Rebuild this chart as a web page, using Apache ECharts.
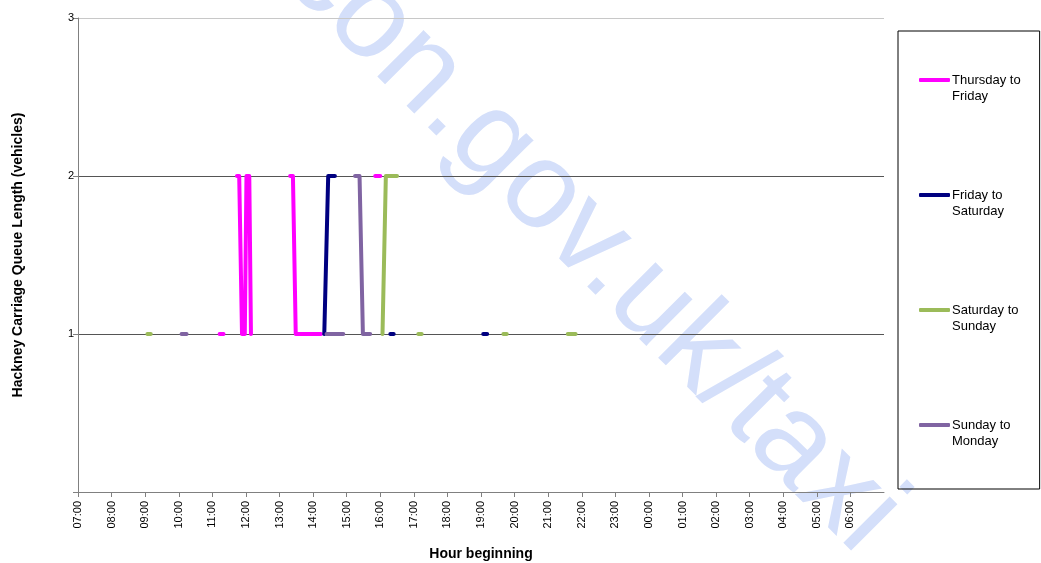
<!DOCTYPE html>
<html>
<head>
<meta charset="utf-8">
<script src="https://cdn.jsdelivr.net/npm/echarts@6/dist/echarts.min.js"></script>
<style>
html,body{margin:0;padding:0;background:#fff;}
#chart{width:1041px;height:563px;}
</style>
</head>
<body>
<div id="chart"></div>
<script>
// Series names
const seriesNames = ["Thursday to Friday", "Friday to Saturday", "Saturday to Sunday", "Sunday to Monday"];
// Queue length readings [clock time, vehicles]; null = no queue (line break)
const thursdayToFriday = [
  ["11:13", 1], ["11:20", 1], null,
  ["11:44", 2], ["11:48", 2], ["11:53", 1], ["11:58", 1], ["12:01", 2], ["12:06", 2], ["12:09", 1], null,
  ["13:19", 2], ["13:24", 2], ["13:29", 1], ["14:14", 1], null,
  ["15:51", 2], ["16:00", 2]
];
const fridayToSaturday = [
  ["14:20", 1], ["14:27", 2], ["14:39", 2], null,
  ["16:18", 1], ["16:24", 1], null,
  ["19:04", 1], ["19:11", 1]
];
const saturdayToSunday = [
  ["09:04", 1], ["09:10", 1], null,
  ["16:04", 1], ["16:10", 2], ["16:30", 2], null,
  ["17:08", 1], ["17:14", 1], null,
  ["19:40", 1], ["19:46", 1], null,
  ["21:35", 1], ["21:49", 1]
];
const sundayToMonday = [
  ["10:05", 1], ["10:14", 1], null,
  ["14:24", 1], ["14:54", 1], null,
  ["15:15", 2], ["15:23", 2], ["15:29", 1], ["15:42", 1]
];
const seriesColors = ["#FF00FF", "#000080", "#9BBB59", "#8064A2"];
const startHour = 7;
const watermarkText = "con.gov.uk/taxi";

function toMinutes(t) {
  const [h, m] = t.split(":").map(Number);
  return ((h * 60 + m) - startHour * 60 + 1440) % 1440;
}
function build(arr) {
  const out = [];
  let last = 0;
  arr.forEach(p => {
    if (p === null) { out.push([last, null]); }
    else { last = toMinutes(p[0]); out.push([last, p[1]]); }
  });
  return out;
}
const allData = [thursdayToFriday, fridayToSaturday, saturdayToSunday, sundayToMonday];

const font = '"Liberation Sans", Arial, sans-serif';
const chart = echarts.init(document.getElementById('chart'));
chart.setOption({
  animation: false,
  backgroundColor: '#ffffff',
  grid: { left: 78, top: 18, right: 157, bottom: 71, containLabel: false, outerBoundsMode: 'none' },
  xAxis: {
    type: 'value', min: 0, max: 1440, interval: 60,
    name: 'Hour beginning', nameLocation: 'middle', nameGap: 55,
    nameTextStyle: { fontFamily: font, fontSize: 14, fontWeight: 'bold', color: '#000' },
    axisLine: { show: true, lineStyle: { color: '#808080', width: 1 } },
    axisTick: { show: true, length: 5, lineStyle: { color: '#808080' } },
    splitLine: { show: false },
    axisLabel: {
      rotate: 90, margin: 9, fontFamily: font, fontSize: 11, color: '#000',
      showMaxLabel: false,
      formatter: v => {
        if (v >= 1440) return '';
        const h = (startHour + Math.floor(v / 60)) % 24;
        return (h < 10 ? '0' : '') + h + ':00';
      }
    }
  },
  yAxis: {
    type: 'value', min: 0, max: 3, interval: 1,
    name: 'Hackney Carriage Queue Length (vehicles)', nameLocation: 'middle', nameGap: 53, nameRotate: 90,
    nameTextStyle: { fontFamily: font, fontSize: 14, fontWeight: 'bold', color: '#000' },
    axisLine: { show: true, lineStyle: { color: '#808080', width: 1 } },
    axisTick: { show: true, length: 5, lineStyle: { color: '#808080' } },
    splitLine: { show: true, lineStyle: { color: ['#555555', '#555555', '#555555', '#c8c8c8'], width: 1 } },
    axisLabel: { margin: 4, fontFamily: font, fontSize: 11, color: '#000', formatter: v => v === 0 ? '' : String(v) }
  },
  legend: {
    orient: 'vertical', left: 898, top: 31,
    itemWidth: 31, itemHeight: 4, itemGap: 67, icon: 'roundRect',
    padding: [25, 19, 40, 21],
    borderColor: '#000', borderWidth: 1,
    data: seriesNames,
    formatter: name => '\n' + name.replace(' to ', ' to\n'),
    textStyle: { fontFamily: font, fontSize: 13, color: '#000', lineHeight: 16, padding: [0, 0, 0, -3] }
  },
  series: seriesNames.map((n, i) => ({
    name: n, type: 'line', data: build(allData[i]),
    showSymbol: false, symbol: 'none', connectNulls: false,
    color: seriesColors[i],
    lineStyle: { color: seriesColors[i], width: 4, cap: 'round', join: 'round' }
  })),
  graphic: [{
    type: 'text', x: 592, y: 243, rotation: -45 * Math.PI / 180, silent: true, z: -10,
    style: {
      text: watermarkText, font: '124px "Liberation Sans", Arial, sans-serif',
      fill: '#D4DFFA', align: 'center', verticalAlign: 'middle'
    }
  }]
});
</script>
</body>
</html>
